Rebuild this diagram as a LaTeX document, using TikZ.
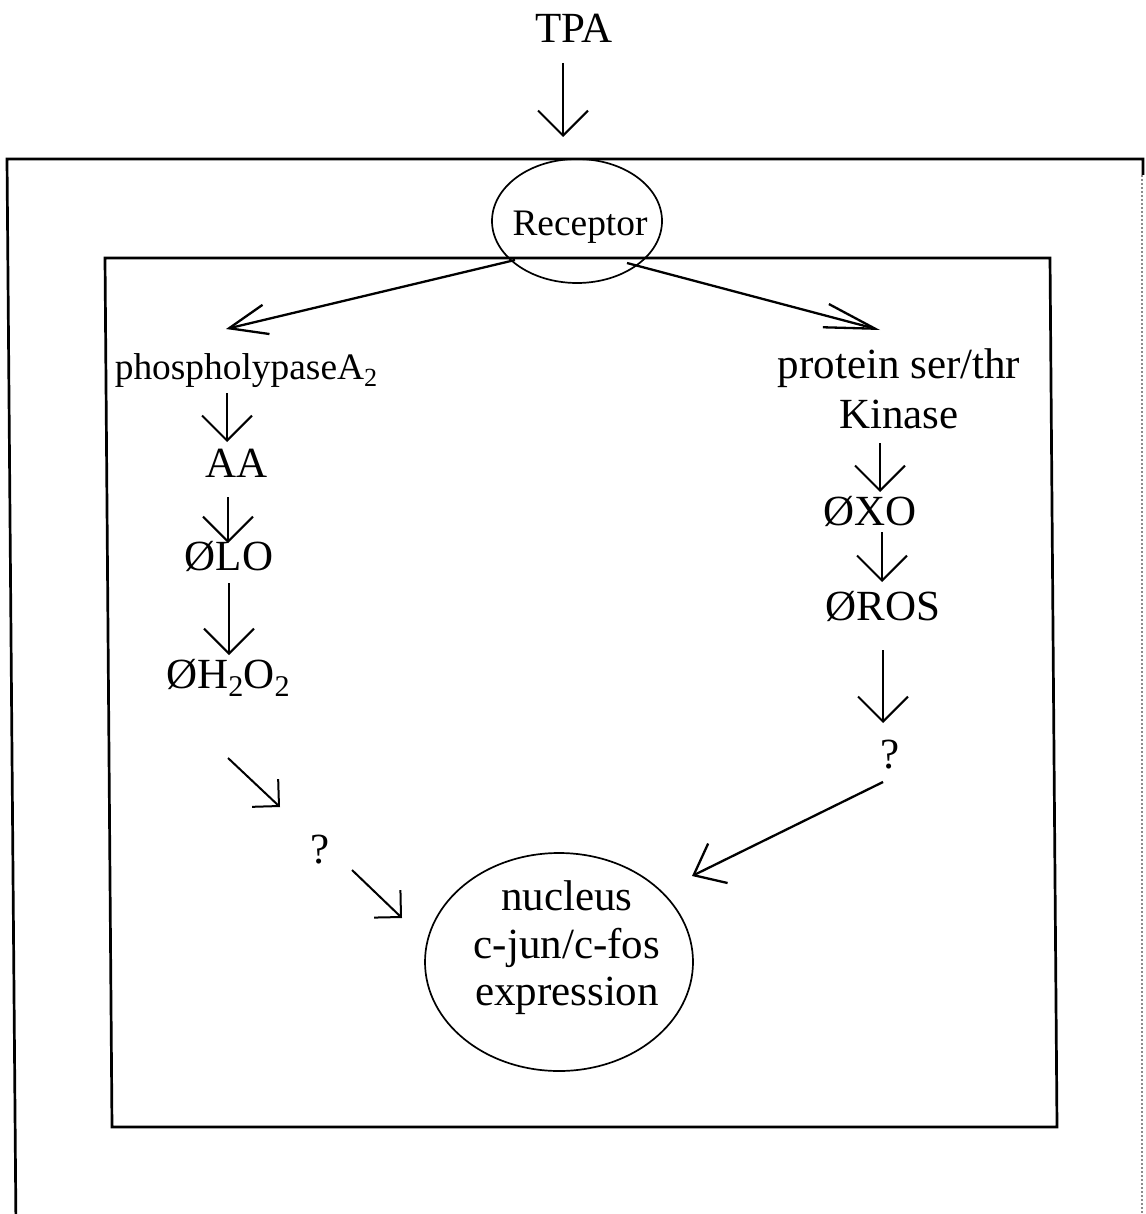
\documentclass[tikz,border=0pt]{standalone}
\usepackage{fontspec}
\setmainfont{Liberation Serif}
\usepackage{graphicx}
\usetikzlibrary{arrows.meta,shapes.geometric}
\newcommand\lowsub[1]{\raisebox{-0.2em}{\scalebox{0.7}{#1}}}
\begin{document}
\begin{tikzpicture}[x=0.5pt,y=-0.5pt,
  big/.style={font=\fontsize{21.5}{23.75}\selectfont, inner sep=0pt, outer sep=0pt},
  small/.style={font=\fontsize{18.7}{22}\selectfont, inner sep=0pt, outer sep=0pt},
  frame/.style={line width=1.35pt, line join=miter},
  faded/.style={line width=0.9pt, black!45, dash pattern=on 1.2pt off 0.8pt},
  ell/.style={draw, ellipse, line width=0.85pt, inner sep=0pt, outer sep=0pt},
  conn/.style={line width=1pt},
  thick conn/.style={line width=1.15pt},
  vtip/.style={-{Straight Barb[length=12.5pt,width=25pt]}},
  dtip/.style={-{Straight Barb[length=9.5pt,width=19pt]}},
  ltip/.style={-{Straight Barb[length=19pt,width=15pt]}},
  rtip/.style={-{Straight Barb[length=25.5pt,width=12pt]}},
  qtip/.style={-{Straight Barb[length=13.5pt,width=22pt]}}
]
\useasboundingbox (0,0) rectangle (1145,1214);
\fill[white] (0,0) rectangle (1145,1214);
\begin{scope}
  \clip (0,0) rectangle (1145,1214);
  \draw[frame] (16,1230) -- (7,159) -- (1143,159) -- (1143,175);
  \draw[faded] (1142,175) -- (1142,1214);
\end{scope}
\draw[frame] (105,258) -- (1050,258) -- (1057,1127) -- (112,1127) -- cycle;

% nodes
\node[big, anchor=base] (tpa) at (574,43) {TPA};
\node[ell, minimum width=85pt, minimum height=62pt] (rec) at (577,221) {};
\node[small, anchor=base] (rectext) at (580,235) {Receptor};
\node[small, anchor=base] (pla) at (246,379) {phospholypaseA\lowsub{2}};
\node[big, anchor=base] (aa) at (237,477) {AA};
\node[big, anchor=base] (lo) at (229,570) {ØLO};
\node[big, anchor=base] (hoo) at (228,688) {ØH\lowsub{2}O\lowsub{2}};
\node[big, anchor=base] (qL) at (320,863) {?};
\node[big, font=\fontsize{21.5}{25}\selectfont, align=center, anchor=north] (psk) at (899,349) {protein ser/thr\\Kinase};
\node[big, anchor=base] (xo) at (870,525) {ØXO};
\node[big, anchor=base] (ros) at (883,620) {ØROS};
\node[big, anchor=base] (qR) at (890,768) {?};
\node[ell, minimum width=134pt, minimum height=109pt] (nuc) at (559,962) {};
\node[big, font=\fontsize{21.5}{23.75}\selectfont, align=center, anchor=north] (nuctext) at (567,881) {nucleus\\c-jun/c-fos\\expression};

% connector end points
\coordinate (c1a) at (563,63);   \coordinate (c1b) at (563,137);
\coordinate (c2a) at (515,260);  \coordinate (c2b) at (226,329);
\coordinate (c3a) at (627,263);  \coordinate (c3b) at (880,330);
\coordinate (c4a) at (227,393);  \coordinate (c4b) at (227,442);
\coordinate (c5a) at (228,497);  \coordinate (c5b) at (228,543);
\coordinate (c6a) at (229,583);  \coordinate (c6b) at (229,655);
\coordinate (c7a) at (228,758);  \coordinate (c7b) at (280,807);
\coordinate (c8a) at (352,870);  \coordinate (c8b) at (402,918);
\coordinate (c9a) at (880,443);  \coordinate (c9b) at (880,492);
\coordinate (c10a) at (882,532); \coordinate (c10b) at (882,582);
\coordinate (c11a) at (883,650); \coordinate (c11b) at (883,723);
\coordinate (c12a) at (883,782); \coordinate (c12b) at (692,876);

% connectors
\draw[conn, vtip] (c1a) -- (c1b);
\draw[thick conn, ltip] (c2a) -- (c2b);
\draw[thick conn, rtip] (c3a) -- (c3b);
\draw[conn, vtip] (c4a) -- (c4b);
\draw[conn, vtip] (c5a) -- (c5b);
\draw[conn, vtip] (c6a) -- (c6b);
\draw[conn, dtip] (c7a) -- (c7b);
\draw[conn, dtip] (c8a) -- (c8b);
\draw[conn, vtip] (c9a) -- (c9b);
\draw[conn, vtip] (c10a) -- (c10b);
\draw[conn, vtip] (c11a) -- (c11b);
\draw[thick conn, qtip] (c12a) -- (c12b);
\end{tikzpicture}
\end{document}
